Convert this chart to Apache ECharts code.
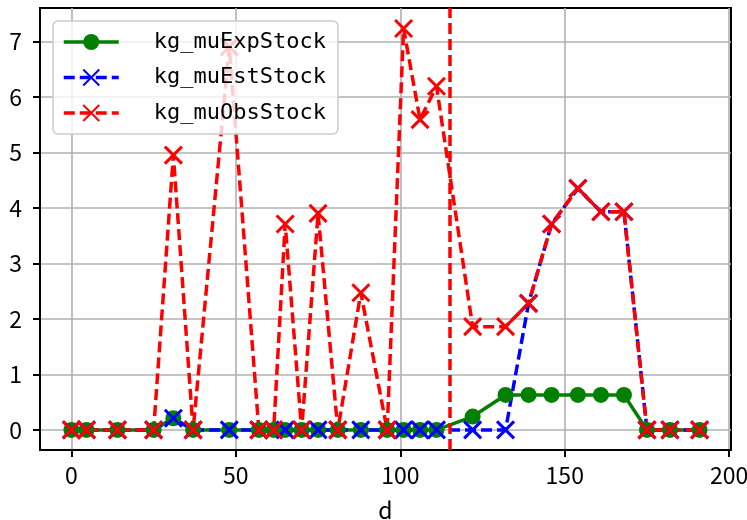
<!DOCTYPE html>
<html>
<head>
<meta charset="utf-8">
<script src="https://cdn.jsdelivr.net/npm/echarts@6/dist/echarts.min.js"></script>
<style>
html, body { margin: 0; padding: 0; background: #fff; }
#chart { width: 747px; height: 520px; }
</style>
</head>
<body>
<div id="chart"></div>
<script>
// 数据
var days = [0, 4.6, 14, 25, 31, 37, 48, 57, 61.5, 65, 70, 75, 81, 88, 96, 101, 106, 111,
            122, 132, 139, 146, 154, 161, 168, 175, 182, 191];
var muExpStock = [0, 0, 0, 0, 0.21, 0, 0, 0, 0, 0, 0, 0, 0, 0, 0, 0, 0, 0,
                  0.24, 0.63, 0.63, 0.63, 0.63, 0.63, 0.63, 0, 0, 0];
var muEstStock = [0, 0, 0, 0, 0.21, 0, 0, 0, 0, 0, 0, 0, 0, 0, 0, 0, 0, 0,
                  0, 0, 2.28, 3.71, 4.35, 3.93, 3.93, 0, 0, 0];
var muObsStock = [0, 0, 0, 0, 4.95, 0, 6.9, 0, 0, 3.71, 0, 3.9, 0, 2.47, 0, 7.23, 5.59, 6.19,
                  1.86, 1.86, 2.28, 3.71, 4.35, 3.93, 3.93, 0, 0, 0];
var seriesNames = ['kg_muExpStock', 'kg_muEstStock', 'kg_muObsStock'];
var xTicks = [0, 50, 100, 150, 200];
var yTicks = [0, 1, 2, 3, 4, 5, 6, 7];
var vlineX = 115;

function pairs(ys) {
  return days.map(function (d, i) { return [d, ys[i]]; });
}

var crossSymbol = 'path://M0,0L10,10M10,0L0,10';
var tickFont = "'Noto Sans CJK SC', 'DejaVu Sans', sans-serif";
var monoFont = "'DejaVu Sans Mono', 'Liberation Mono', monospace";

var chart = echarts.init(document.getElementById('chart'));
var option = {
  animation: false,
  grid: {
    left: 40, right: 16, top: 8, bottom: 70,
    outerBoundsMode: 'none',
    containLabel: false,
    show: true,
    borderColor: '#000',
    borderWidth: 2,
    backgroundColor: '#fff'
  },
  legend: {
    orient: 'vertical',
    left: 53, top: 21,
    padding: [10, 12, 10, 9],
    itemWidth: 55, itemHeight: 20, itemGap: 13.5,
    backgroundColor: 'rgba(255,255,255,0.8)',
    borderColor: '#cccccc', borderWidth: 1.5, borderRadius: 5,
    lineStyle: { width: 3.5 },
    textStyle: { fontFamily: monoFont, fontSize: 22, color: '#000', padding: [0, 0, 0, 30] },
    data: seriesNames
  },
  xAxis: {
    type: 'value',
    min: -9.55, max: 200.55,
    name: 'd', nameLocation: 'middle', nameGap: 49,
    nameTextStyle: { fontFamily: tickFont, fontSize: 23, color: '#000' },
    axisLine: { onZero: false, lineStyle: { color: '#000', width: 2 } },
    axisTick: { show: true, length: 7, lineStyle: { color: '#000', width: 2 }, customValues: xTicks },
    axisLabel: { margin: 14, fontFamily: tickFont, fontSize: 23, color: '#000', customValues: xTicks },
    splitLine: { show: true, lineStyle: { color: '#b0b0b0', width: 1.6 } }
  },
  yAxis: {
    type: 'value',
    min: -0.362, max: 7.6,
    axisLine: { show: true, onZero: false, lineStyle: { color: '#000', width: 2 } },
    axisTick: { show: true, length: 7, lineStyle: { color: '#000', width: 2 }, customValues: yTicks },
    axisLabel: { margin: 18, fontFamily: tickFont, fontSize: 23, color: '#000', customValues: yTicks },
    splitLine: { show: true, lineStyle: { color: '#b0b0b0', width: 1.6 } }
  },
  series: [{
    name: seriesNames[0],
    type: 'line',
    data: pairs(muExpStock),
    symbol: 'circle', symbolSize: 16,
    showAllSymbol: true,
    itemStyle: { color: '#008000' },
    lineStyle: { color: '#008000', width: 3.5, type: 'solid' }
  }, {
    name: seriesNames[1],
    type: 'line',
    data: pairs(muEstStock),
    symbol: crossSymbol, symbolSize: 17,
    showAllSymbol: true,
    itemStyle: { color: '#0000ff', borderColor: '#0000ff', borderWidth: 3 },
    lineStyle: { color: '#0000ff', width: 3.5, type: [11, 5] }
  }, {
    name: seriesNames[2],
    type: 'line',
    data: pairs(muObsStock),
    symbol: crossSymbol, symbolSize: 17,
    showAllSymbol: true,
    itemStyle: { color: '#ff0000', borderColor: '#ff0000', borderWidth: 3 },
    lineStyle: { color: '#ff0000', width: 3.5, type: [11, 5] },
    markLine: {
      silent: true,
      symbol: 'none',
      label: { show: false },
      lineStyle: { color: '#ff0000', width: 3.5, type: [11, 5] },
      data: [{ xAxis: vlineX }]
    }
  }]
};
chart.setOption(option);
</script>
</body>
</html>
